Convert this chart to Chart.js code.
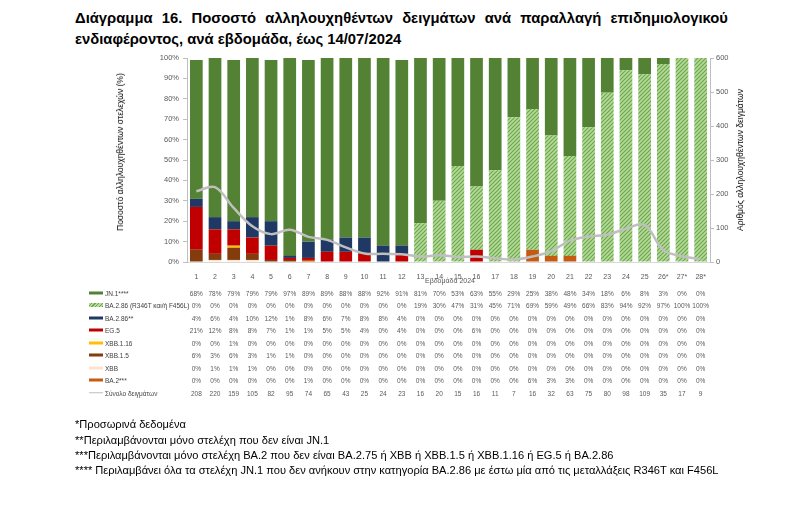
<!DOCTYPE html>
<html lang="el">
<head>
<meta charset="utf-8">
<script src="https://cdn.jsdelivr.net/npm/chart.js@4.4.1/dist/chart.umd.min.js"></script>
<style>
  html, body { margin: 0; padding: 0; background: #fff; }
  body { width: 800px; height: 505px; position: relative; overflow: hidden; font-family: 'Liberation Sans', Arial, sans-serif; }
  #chart { position: absolute; left: 0; top: 0; }
  .title { position: absolute; left: 75px; width: 653px; font-weight: bold; font-size: 14.8px; color: #000; white-space: nowrap; }
  .t1 { top: 10px; display: flex; justify-content: space-between; }
  .t2 { top: 31px; }
  .axt { position: absolute; white-space: nowrap; font-size: 8.5px; color: #000; transform: translate(-50%, -50%) rotate(-90deg); }
  .xt { position: absolute; font-size: 7px; color: #595959; transform: translateX(-50%); white-space: nowrap; }
  .cell { position: absolute; font-size: 6.5px; color: #595959; transform: translate(-50%, -50%); white-space: nowrap; }
  .lab { position: absolute; font-size: 6.5px; color: #404040; transform: translateY(-50%); white-space: nowrap; left: 105px; }
  .key { position: absolute; left: 89px; width: 14px; height: 3px; transform: translateY(-50%); }
  .foot { position: absolute; left: 75px; font-size: 11.1px; color: #000; white-space: nowrap; }
</style>
</head>
<body>
<div class="title t1"><span>Διάγραμμα</span><span>16.</span><span>Ποσοστό</span><span>αλληλουχηθέντων</span><span>δειγμάτων</span><span>ανά</span><span>παραλλαγή</span><span>επιδημιολογικού</span></div>
<div class="title t2">ενδιαφέροντος, ανά εβδομάδα, έως 14/07/2024</div>
<canvas id="chart" width="800" height="505"></canvas>
<div class="axt" style="left:120px; top:152px;">Ποσοστό αλληλουχηθέντων στελεχών (%)</div>
<div class="axt" style="left:740px; top:160px;">Αριθμός αλληλουχηθέντων δειγμάτων</div>
<div class="xt" style="left:450px; top:277px;">Εβδομάδα 2024</div>
<div id="table"></div>
<div class="foot" style="top:418px;">*Προσωρινά δεδομένα</div>
<div class="foot" style="top:434px;">**Περιλαμβάνονται μόνο στελέχη που δεν είναι JN.1</div>
<div class="foot" style="top:449px;">***Περιλαμβάνονται μόνο στελέχη BA.2 που δεν είναι BA.2.75 ή XBB ή XBB.1.5 ή XBB.1.16 ή EG.5 ή BA.2.86</div>
<div class="foot" style="top:464px;">**** Περιλαμβάνει όλα τα στελέχη JN.1 που δεν ανήκουν στην κατηγορία BA.2.86 με έστω μία από τις μεταλλάξεις R346T και F456L</div>
<script>
// Εβδομάδες
const weeks = ['1','2','3','4','5','6','7','8','9','10','11','12','13','14','15','16','17','18','19','20','21','22','23','24','25','26*','27*','28*'];

// Ποσοστά ανά παραλλαγή (%)
const jn1     = [68,78,79,79,79,97,89,89,88,88,92,91,81,70,53,63,55,29,25,38,48,34,18,6,8,3,0,0];
const ba286R  = [0,0,0,0,0,0,0,0,0,0,0,0,19,30,47,31,45,71,69,59,49,66,83,94,92,97,100,100];
const ba286   = [4,6,4,10,12,1,8,6,7,8,8,4,0,0,0,0,0,0,0,0,0,0,0,0,0,0,0,0];
const eg5     = [21,12,8,8,7,1,1,5,5,4,0,4,0,0,0,6,0,0,0,0,0,0,0,0,0,0,0,0];
const xbb116  = [0,0,1,0,0,0,0,0,0,0,0,0,0,0,0,0,0,0,0,0,0,0,0,0,0,0,0,0];
const xbb15   = [6,3,6,3,1,1,0,0,0,0,0,0,0,0,0,0,0,0,0,0,0,0,0,0,0,0,0,0];
const xbb     = [0,1,1,1,0,0,0,0,0,0,0,0,0,0,0,0,0,0,0,0,0,0,0,0,0,0,0,0];
const ba2     = [0,0,0,0,0,0,1,0,0,0,0,0,0,0,0,0,0,0,6,3,3,0,0,0,0,0,0,0];

// Σύνολο δειγμάτων
const totals  = [208,220,159,105,82,95,74,65,43,25,24,23,16,20,15,16,11,7,16,32,63,75,80,98,109,35,17,9];

// Άξονες
const pctTicks = [0,10,20,30,40,50,60,70,80,90,100];
const countTicks = [0,100,200,300,400,500,600];

const colors = {
    jn1: '#548235',
    hatchBg: '#B7DA9C',
    hatchLine: '#6AA84A',
    ba286: '#203864',
    eg5: '#C00000',
    xbb116: '#FFC000',
    xbb15: '#843C0C',
    xbb: '#FBE3D3',
    ba2: '#C55A11',
    total: '#BFBFBF'
};

// μοτίβο με διαγώνιες γραμμές για BA.2.86 (R346T και/ή F456L)
function hatchPattern() {
    const c = document.createElement('canvas');
    c.width = 4; c.height = 4;
    const g = c.getContext('2d');
    g.fillStyle = colors.hatchBg;
    g.fillRect(0, 0, 4, 4);
    g.strokeStyle = colors.hatchLine;
    g.lineWidth = 1.2;
    g.beginPath();
    g.moveTo(0, 4); g.lineTo(4, 0);
    g.moveTo(-1, 1); g.lineTo(1, -1);
    g.moveTo(3, 5); g.lineTo(5, 3);
    g.stroke();
    return g.createPattern(c, 'repeat');
}

// σειρές πίνακα (σειρά όπως στον πίνακα δεδομένων)
const rows = [
    { label: 'JN.1****', data: jn1, color: colors.jn1 },
    { label: 'BA.2.86 (R346T και/ή F456L)', data: ba286R, color: hatchPattern(), hatch: true },
    { label: 'BA.2.86**', data: ba286, color: colors.ba286 },
    { label: 'EG.5', data: eg5, color: colors.eg5 },
    { label: 'XBB.1.16', data: xbb116, color: colors.xbb116 },
    { label: 'XBB.1.5', data: xbb15, color: colors.xbb15 },
    { label: 'XBB', data: xbb, color: colors.xbb },
    { label: 'BA.2***', data: ba2, color: colors.ba2 }
];

// στοίβαξη: η τελευταία σειρά του πίνακα στο κάτω μέρος
const barSets = rows.slice().reverse().map(r => ({
    type: 'bar',
    label: r.label,
    data: r.data,
    backgroundColor: r.color,
    borderWidth: 0,
    yAxisID: 'y',
    order: 1,
    barPercentage: 1,
    categoryPercentage: 0.68
}));

const tickFont = { family: "'Liberation Sans', Arial, sans-serif", size: 7.5 };

const chart = new Chart(document.getElementById('chart'), {
    data: {
        labels: weeks,
        datasets: [{
            type: 'line',
            label: 'Σύνολο δειγμάτων',
            data: totals,
            yAxisID: 'y1',
            borderColor: colors.total,
            borderWidth: 2.5,
            pointRadius: 0,
            tension: 0.35,
            order: 0
        }].concat(barSets)
    },
    options: {
        responsive: false,
        animation: false,
        layout: { padding: { top: 58, left: 0, right: 0, bottom: 0 } },
        plugins: {
            legend: { display: false },
            tooltip: { enabled: false }
        },
        scales: {
            x: {
                stacked: true,
                grid: { display: false },
                border: { display: true, color: '#D9D9D9' },
                ticks: { font: { family: tickFont.family, size: 7 }, color: '#595959', padding: 3, maxRotation: 0, autoSkip: false },
                afterFit: s => { s.height = 505 - 262; }
            },
            y: {
                stacked: true,
                min: 0,
                max: 100,
                afterBuildTicks: s => { s.ticks = pctTicks.map(v => ({ value: v })); },
                ticks: { callback: v => v + '%', font: tickFont, color: '#595959', padding: 4 },
                grid: { drawOnChartArea: false, drawTicks: true, tickLength: 4, color: '#BFBFBF' },
                border: { color: '#BFBFBF' },
                afterFit: s => { s.width = 187; }
            },
            y1: {
                position: 'right',
                min: 0,
                max: 600,
                afterBuildTicks: s => { s.ticks = countTicks.map(v => ({ value: v })); },
                ticks: { font: tickFont, color: '#595959', padding: 2 },
                grid: { drawOnChartArea: false, drawTicks: true, tickLength: 4, color: '#BFBFBF' },
                border: { color: '#BFBFBF' },
                afterFit: s => { s.width = 800 - 710; }
            }
        }
    }
});

// Πίνακας δεδομένων κάτω από το γράφημα, στοιχισμένος με τις στήλες
const table = document.getElementById('table');
const xs = chart.scales.x;
const rowY = i => 292.5 + 12.5 * i;

function addDiv(cls, text, style) {
    const d = document.createElement('div');
    d.className = cls;
    if (text !== null) d.textContent = text;
    Object.assign(d.style, style);
    table.appendChild(d);
    return d;
}

rows.forEach((r, i) => {
    const y = rowY(i);
    const key = addDiv('key', null, { top: y + 'px' });
    if (r.hatch) {
        key.style.background = 'repeating-linear-gradient(-45deg, ' + colors.hatchLine + ' 0 1px, ' + colors.hatchBg + ' 1px 2.5px)';
        key.style.height = '4px';
    } else {
        key.style.background = r.color;
    }
    addDiv('lab', r.label, { top: y + 'px' });
    r.data.forEach((v, j) => {
        addDiv('cell', v + '%', { left: xs.getPixelForValue(j) + 'px', top: y + 'px' });
    });
});

const yt = rowY(rows.length);
addDiv('key', null, { top: yt + 'px', height: '1.5px', background: colors.total });
addDiv('lab', 'Σύνολο δειγμάτων', { top: yt + 'px' });
totals.forEach((v, j) => {
    addDiv('cell', String(v), { left: xs.getPixelForValue(j) + 'px', top: yt + 'px' });
});
</script>
</body>
</html>
